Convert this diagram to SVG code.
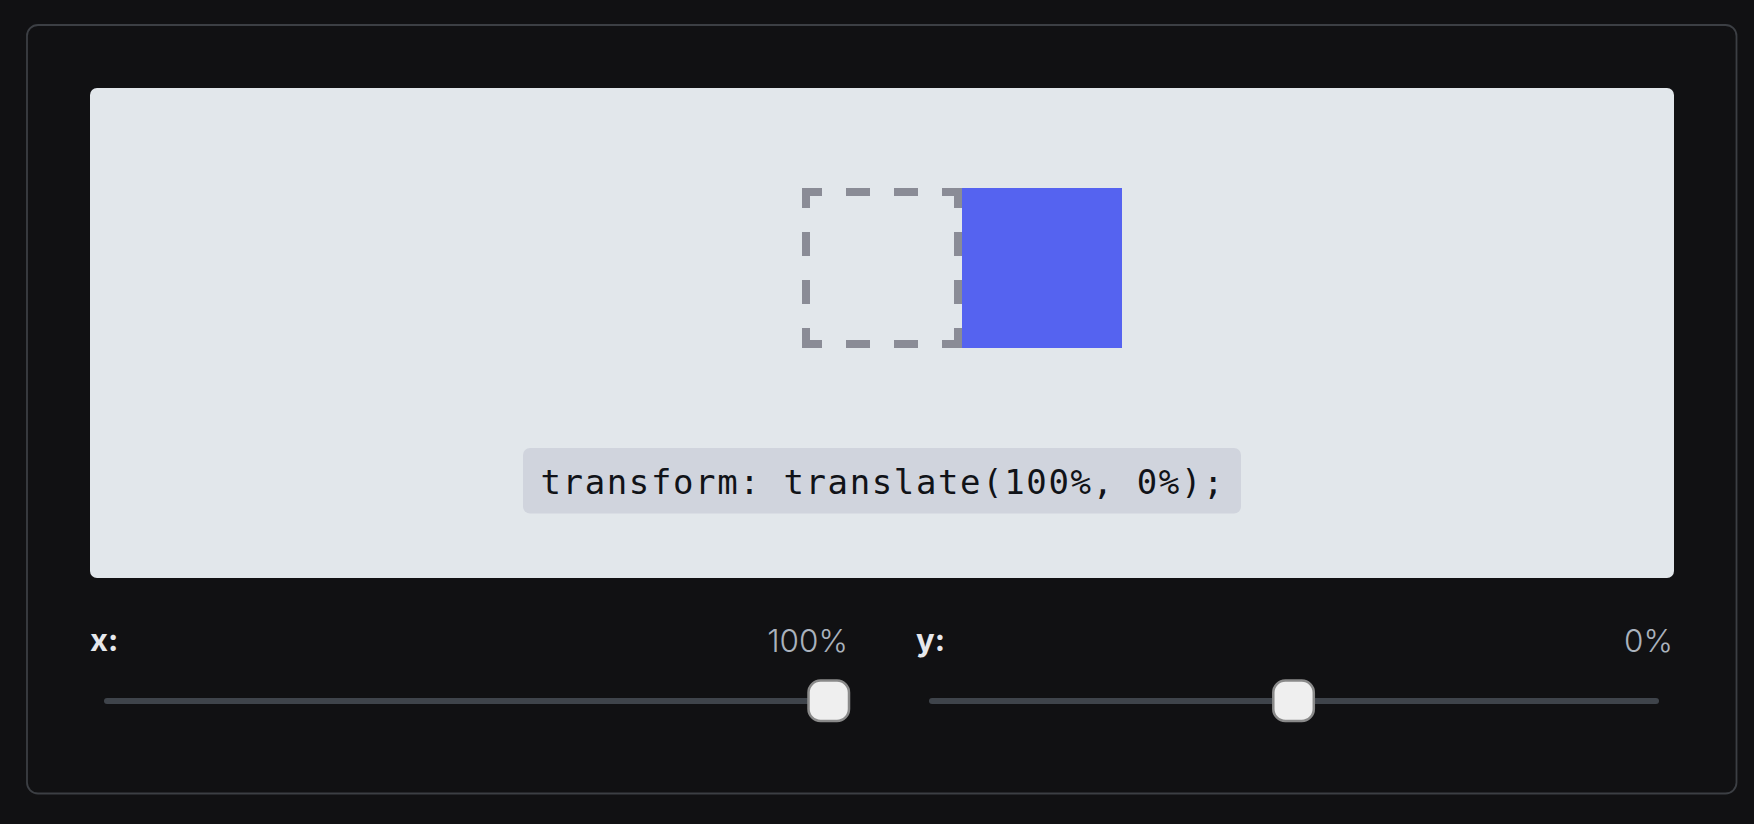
<svg xmlns="http://www.w3.org/2000/svg" width="1754" height="824" viewBox="0 0 1754 824">
<style>
.label{font-family:Inter,"Noto Sans",sans-serif;font-size:31px;font-weight:700;fill:#e6e8ec}
.value{font-family:Inter,"Noto Sans",sans-serif;font-size:31.5px;font-weight:300;fill:#aab2bd}
.code{font-family:"DejaVu Sans Mono","Liberation Mono",monospace;font-size:34px;fill:#111318}
.dash{stroke:#8a8c96;stroke-width:8;stroke-dasharray:24 24;stroke-dashoffset:4;fill:none}
.track{stroke:#3f444b;stroke-width:6;stroke-linecap:round}
.thumb{fill:#efefef;stroke:#8a8a8a;stroke-width:2.5}
</style>
<rect x="0" y="0" width="1754" height="824" fill="#111113"/>
<rect x="27" y="25" width="1709.5" height="768.5" rx="11" fill="#111113" stroke="#3c3f44" stroke-width="1.8"/>
<g id="stage">
<rect x="90" y="88" width="1584" height="490" rx="7" fill="#e2e7eb"/>
</g>
<g id="original-box">
<line class="dash" x1="802" y1="192" x2="962" y2="192"/>
<line class="dash" x1="802" y1="344" x2="962" y2="344"/>
<line class="dash" x1="806" y1="188" x2="806" y2="348"/>
<line class="dash" x1="958" y1="188" x2="958" y2="348"/>
</g>
<g id="translated-box">
<rect x="962" y="188" width="160" height="160" fill="#5563f0"/>
</g>
<g id="code-label">
<rect x="523" y="448" width="718" height="65.5" rx="7" fill="#d0d4dd"/>
<text class="code" x="882" y="494" text-anchor="middle" textLength="683" lengthAdjust="spacing">transform: translate(100%, 0%);</text>
</g>
<g id="slider-x">
<text class="label" x="90" y="651">x:</text>
<text class="value" x="848" y="651.5" text-anchor="end">100%</text>
<line class="track" x1="107" y1="701" x2="846" y2="701"/>
<rect class="thumb" x="808.5" y="680.5" width="40.5" height="40.5" rx="12"/>
</g>
<g id="slider-y">
<text class="label" x="916" y="651">y:</text>
<text class="value" x="1673" y="651.5" text-anchor="end">0%</text>
<line class="track" x1="932" y1="701" x2="1656" y2="701"/>
<rect class="thumb" x="1273.3" y="680.5" width="40.5" height="40.5" rx="12"/>
</g>
<g id="connectors"></g>
</svg>
